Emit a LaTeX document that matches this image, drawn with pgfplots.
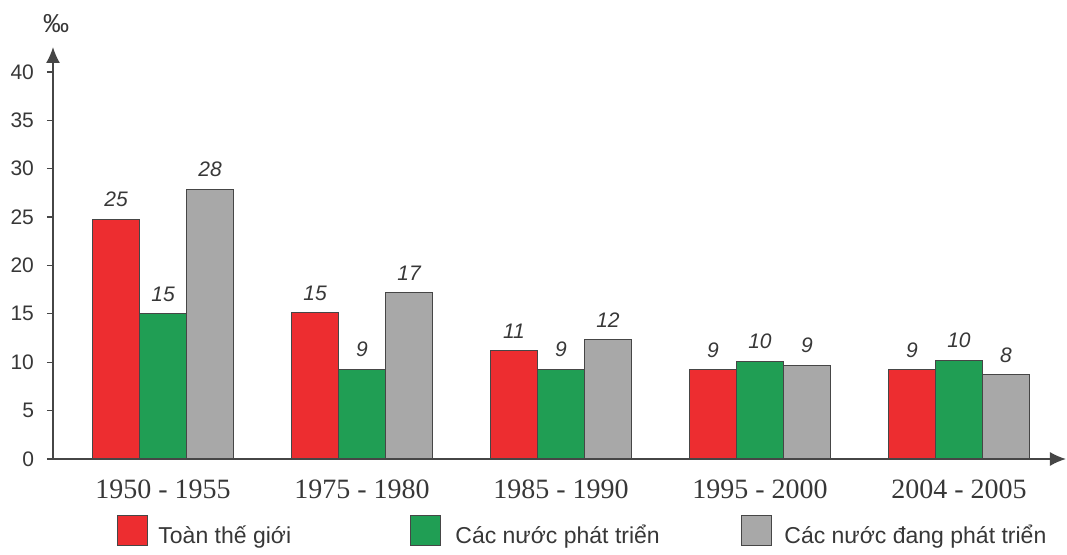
\documentclass[border=0pt]{standalone}
\usepackage{fontspec}
\setmainfont{Liberation Sans}
\newfontfamily\serifx{Liberation Serif}
\usepackage{pgfplots}
\pgfplotsset{compat=1.18}
\usepackage{pgfplotstable}
\usetikzlibrary{arrows.meta}
\definecolor{cred}{RGB}{237,45,48}
\definecolor{cgreen}{RGB}{32,158,84}
\definecolor{cgray}{RGB}{168,168,168}
\definecolor{cline}{RGB}{70,70,70}
\definecolor{ctext}{RGB}{55,55,55}

\pgfplotstableread{
x red redl green greenl gray grayl
0 24.8 25 15.0 15 27.9 28
1 15.1 15 9.3 9 17.2 17
2 11.2 11 9.3 9 12.3 12
3 9.2 9 10.1 10 9.7 9
4 9.2 9 10.2 10 8.7 8
}\datatable

\pgfplotsset{sqlegend/.style={legend image code/.code={\draw[##1, draw=cline, line width=0.5pt] (0pt,-0.5em) rectangle (15pt,1.0em);}}}

\begin{document}
\begin{tikzpicture}
\begin{axis}[
 at={(0,0)}, anchor=south west,
 scale only axis, width=506.5pt, height=206pt,
 xmin=-0.553, xmax=4.538, ymin=0, ymax=42.58,
 clip=false,
 axis lines=left,
 axis line style={cline, line width=0.8pt},
 x axis line style={-{Latex[length=8pt,width=7pt]}},
 y axis line style={-{Latex[length=8pt,width=7pt]}},
 ytick={0,5,...,40},
 xtick={0,...,4},
 xticklabels={1950 - 1955, 1975 - 1980, 1985 - 1990, 1995 - 2000, 2004 - 2005},
 xtick style={draw=none},
 ytick style={cline, line width=0.6pt},
 tick align=outside, major tick length=3pt,
 /pgf/number format/assume math mode=true,
 yticklabel style={font=\fontsize{10.5}{12}\selectfont, text=ctext, xshift=-3pt},
 xticklabel style={font=\serifx\fontsize{14}{16}\selectfont, text=ctext, yshift=-4pt},
 ylabel={‰},
 ylabel style={at={(rel axis cs:0.003,1.058)}, rotate=-90, anchor=center, font=\fontsize{13}{14}\selectfont, text=ctext},
 ybar=0pt, bar width=23.5pt,
 nodes near coords, point meta=explicit symbolic,
 nodes near coords style={font=\itshape\fontsize{10.5}{12}\selectfont, text=ctext, yshift=2.5pt},
 legend columns=3,
 legend style={at={(axis description cs:0.0573,-0.175)}, anchor=west, draw=none, fill=none,
   /tikz/every even column/.style={column sep=0pt},
   font=\fontsize{11.5}{13}\selectfont, text=ctext, nodes={inner sep=0pt}},
]
\addplot[sqlegend, fill=cred, draw=cline, line width=0.5pt] table[x=x, y=red, meta=redl] {\datatable};
\addlegendentry{\hspace{5pt}\makebox[126pt][l]{Toàn thế giới}}
\addplot[sqlegend, fill=cgreen, draw=cline, line width=0.5pt] table[x=x, y=green, meta=greenl] {\datatable};
\addlegendentry{\hspace{7pt}\makebox[143pt][l]{Các nước phát triển}}
\addplot[sqlegend, fill=cgray, draw=cline, line width=0.5pt] table[x=x, y=gray, meta=grayl] {\datatable};
\addlegendentry{\hspace{6pt}Các nước đang phát triển}
\end{axis}
\path[use as bounding box] (-26.5pt,-48pt) rectangle (507pt,229.5pt);
\end{tikzpicture}
\end{document}
